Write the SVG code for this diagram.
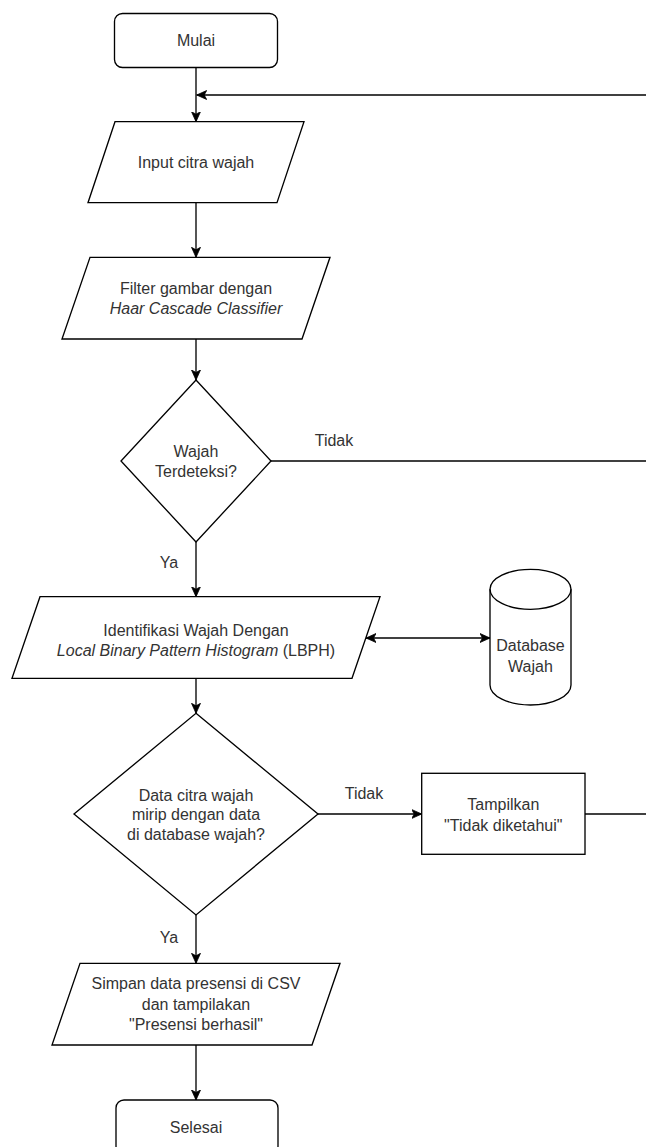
<svg xmlns="http://www.w3.org/2000/svg" width="646" height="1147" viewBox="0 0 646 1147">
<style>
.shape{fill:#ffffff;stroke:#000000;stroke-width:1.33}
.edge{fill:none;stroke:#000000;stroke-width:1.33}
text{font-family:"Liberation Sans",Arial,Helvetica,sans-serif;font-size:16px;fill:#333333;text-anchor:middle}
.it{font-style:italic}
</style>
<defs>
<marker id="arr" markerUnits="userSpaceOnUse" markerWidth="11" markerHeight="10" viewBox="0 0 11 10" refX="10" refY="5" orient="auto-start-reverse">
<path d="M0,0.5 L10,5 L0,9.5 L2.5,5 Z" fill="#000000" stroke="#000000" stroke-width="0.8"/>
</marker>
</defs>
<rect width="646" height="1147" fill="#ffffff"/>
<g id="connectors">
<path class="edge" d="M196,67.5 L196,121.7" marker-end="url(#arr)"/>
<path class="edge" d="M646,95 L196.7,95" marker-end="url(#arr)"/>
<path class="edge" d="M196,202.7 L196,257.3" marker-end="url(#arr)"/>
<path class="edge" d="M196,339 L196,380" marker-end="url(#arr)"/>
<path class="edge" d="M271,461 L646,461"/>
<text x="334" y="446">Tidak</text>
<path class="edge" d="M196,542 L196,596.7" marker-end="url(#arr)"/>
<text x="169" y="568">Ya</text>
<path class="edge" d="M366,638 L490,638" marker-start="url(#arr)" marker-end="url(#arr)"/>
<path class="edge" d="M196,678.3 L196,713.3" marker-end="url(#arr)"/>
<path class="edge" d="M318,814 L421.7,814" marker-end="url(#arr)"/>
<text x="364" y="799">Tidak</text>
<path class="edge" d="M585,814 L646,814"/>
<path class="edge" d="M196,915 L196,963.3" marker-end="url(#arr)"/>
<text x="169" y="943">Ya</text>
<path class="edge" d="M196,1045 L196,1100" marker-end="url(#arr)"/>
</g>
<g id="mulai">
<rect class="shape" x="114.5" y="13.5" width="163" height="54" rx="8" ry="8"/>
<text x="196" y="46">Mulai</text>
</g>
<g id="input">
<polygon class="shape" points="115,121.7 304,121.7 277,202.7 88,202.7"/>
<text x="196" y="168">Input citra wajah</text>
</g>
<g id="filter">
<polygon class="shape" points="90,257.3 330,257.3 302,339 62,339"/>
<text x="196" y="294">Filter gambar dengan</text>
<text x="196" y="314" class="it">Haar Cascade Classifier</text>
</g>
<g id="decision1">
<polygon class="shape" points="196,380 271,461 196,542 121,461"/>
<text x="196" y="457">Wajah</text>
<text x="196" y="477">Terdeteksi?</text>
</g>
<g id="lbph">
<polygon class="shape" points="40,596.7 380,596.7 352,678.3 12,678.3"/>
<text x="196" y="635.5">Identifikasi Wajah Dengan</text>
<text x="196" y="655.5"><tspan class="it">Local Binary Pattern Histogram</tspan> (LBPH)</text>
</g>
<g id="database">
<path class="shape" d="M490,589.3 A40.5,20 0 0,1 571,589.3 L571,685 A40.5,20 0 0,1 490,685 Z"/>
<path class="edge" d="M490,589.3 A40.5,20 0 0,0 571,589.3"/>
<text x="530.5" y="650.5">Database</text>
<text x="530.5" y="672">Wajah</text>
</g>
<g id="decision2">
<polygon class="shape" points="196,713.3 318,814 196,915 74,814"/>
<text x="196" y="800.5">Data citra wajah</text>
<text x="196" y="820">mirip dengan data</text>
<text x="196" y="839.5">di database wajah?</text>
</g>
<g id="tampilkan">
<rect class="shape" x="421.7" y="773.3" width="163.3" height="81"/>
<text x="503.3" y="809.5">Tampilkan</text>
<text x="503.3" y="830.5">"Tidak diketahui"</text>
</g>
<g id="simpan">
<polygon class="shape" points="80,963.3 340,963.3 312,1045 52,1045"/>
<text x="196" y="989">Simpan data presensi di CSV</text>
<text x="196" y="1009.5">dan tampilakan</text>
<text x="196" y="1029.5">"Presensi berhasil"</text>
</g>
<g id="selesai">
<rect class="shape" x="116" y="1100" width="162" height="54" rx="8" ry="8"/>
<text x="196" y="1132.5">Selesai</text>
</g>
</svg>
